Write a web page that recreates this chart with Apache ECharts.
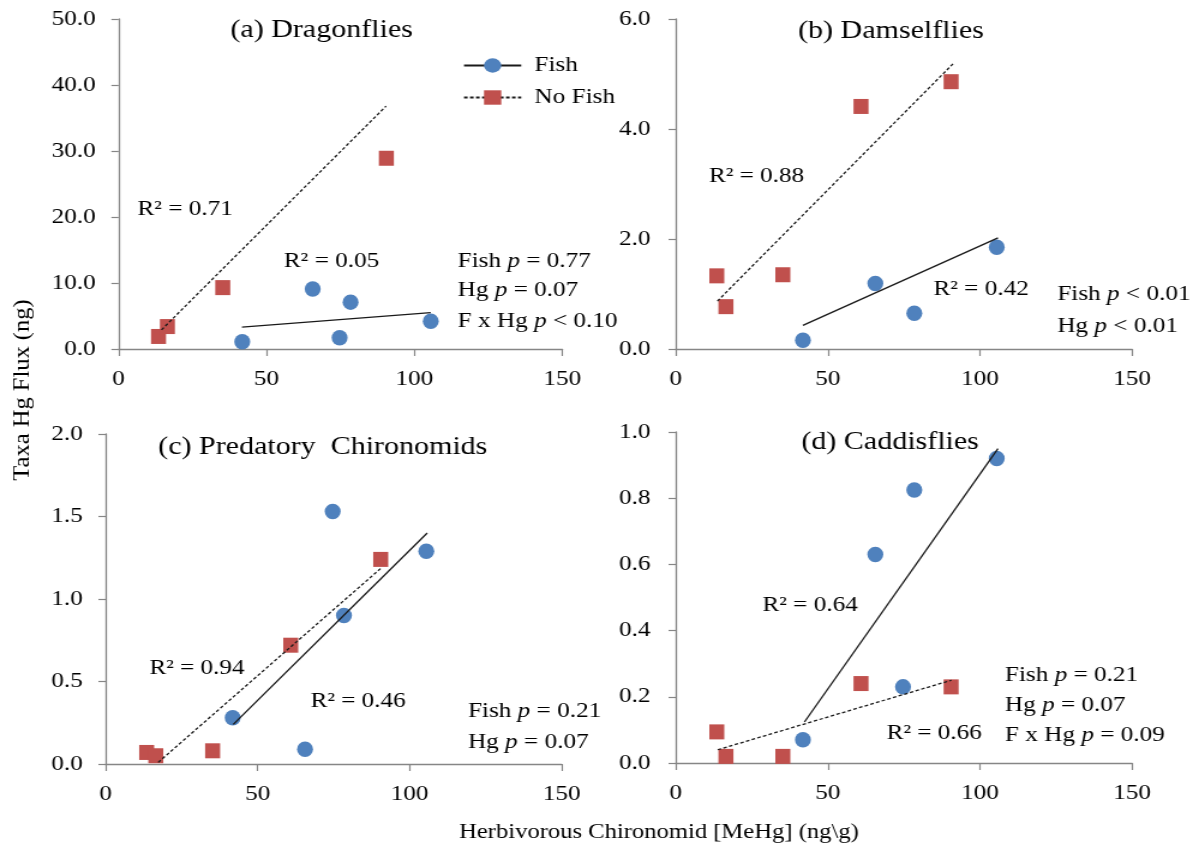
<!DOCTYPE html>
<html>
<head>
<meta charset="utf-8">
<script src="https://cdn.jsdelivr.net/npm/echarts@6/dist/echarts.min.js"></script>
<style>
  html, body { margin: 0; background: #fff; overflow: hidden; }
  /* the source figure is a bit wider than tall text would suggest: stretch horizontally */
  #chart { width: 999px; height: 849px; transform: scaleX(1.2002); transform-origin: 0 0; }
</style>
</head>
<body>
<div id="chart"></div>
<script>
// lake MeHg in herbivorous chironomids (x), same lakes in every panel
const fishX = [41.8, 65.6, 74.7, 78.4, 105.5];
const noFishX = [13.5, 16.5, 35.2, 60.9, 90.5];

// taxa Hg flux (ng); null = point not shown in that panel
const dragonFish = [1.1, 9.1, 1.7, 7.1, 4.2];
const dragonNoFish = [1.9, 3.4, 9.3, null, 28.9];
const damselFish = [0.16, 1.19, null, 0.65, 1.85];
const damselNoFish = [1.33, 0.77, 1.35, 4.41, 4.86];
const predFish = [0.28, 0.09, 1.53, 0.90, 1.29];
const predNoFish = [0.07, 0.05, 0.08, 0.72, 1.24];
const caddisFish = [0.07, 0.63, 0.23, 0.825, 0.92];
const caddisNoFish = [0.094, 0.02, 0.02, 0.24, 0.23];

// fitted trend line end points
const dragonFishFit = [[41.7, 3.3], [105.5, 5.5]];
const dragonNoFishFit = [[14.5, 2.9], [90.4, 36.8]];
const damselFishFit = [[41.8, 0.43], [105.9, 2.02]];
const damselNoFishFit = [[13.7, 0.87], [91.2, 5.19]];
const predFishFit = [[42.0, 0.24], [105.8, 1.40]];
const predNoFishFit = [[17.3, 0.01], [90.8, 1.19]];
const caddisFishFit = [[42.3, 0.124], [105.9, 0.95]];
const caddisNoFishFit = [[13.8, 0.04], [90.6, 0.25]];

const xTicks = [0, 50, 100, 150];

const FONT = "'Liberation Serif', 'Times New Roman', serif";
const BLUE = "#4f81bd";
const RED = "#c0504d";
const AXIS = "#868686";

// notes: [text, [x, y] in data units of that panel, fontSize]
const panels = [
  {
    grid: { left: 98.8, top: 19, width: 369.8, height: 330 },
    yMax: 50, yStep: 10, labelGap: 19,
    fish: dragonFish, noFish: dragonNoFish,
    fishFit: dragonFishFit, noFishFit: dragonNoFishFit,
    notes: [
      ["(a) Dragonflies", [37.8, 48.2], 25],
      ["R² = 0.71", [6.4, 21.1], 21],
      ["R² = 0.05", [55.9, 13.3], 21],
      ["Fish {i|p} = 0.77", [114.6, 13.3], 21],
      ["Hg {i|p} = 0.07", [114.6, 8.8], 21],
      ["F x Hg {i|p} < 0.10", [114.6, 4.2], 21],
    ],
  },
  {
    grid: { left: 563, top: 19, width: 380.3, height: 330 },
    yMax: 6, yStep: 2, labelGap: 21,
    fish: damselFish, noFish: damselNoFish,
    fishFit: damselFishFit, noFishFit: damselNoFishFit,
    notes: [
      ["(b) Damselflies", [40.2, 5.78], 25],
      ["R² = 0.88", [10.9, 3.14], 21],
      ["R² = 0.42", [84.7, 1.08], 21],
      ["Fish {i|p} < 0.01", [125.4, 0.99], 21],
      ["Hg {i|p} < 0.01", [125.4, 0.41], 21],
    ],
  },
  {
    grid: { left: 88, top: 434, width: 379.9, height: 330 },
    yMax: 2, yStep: 0.5, labelGap: 19,
    fish: predFish, noFish: predNoFish,
    fishFit: predFishFit, noFishFit: predNoFishFit,
    notes: [
      ["(c) Predatory  Chironomids", [17.3, 1.92], 25],
      ["R² = 0.94", [14.4, 0.58], 21],
      ["R² = 0.46", [67.4, 0.38], 21],
      ["Fish {i|p} = 0.21", [119.2, 0.317], 21],
      ["Hg {i|p} = 0.07", [119.2, 0.129], 21],
    ],
  },
  {
    grid: { left: 563, top: 432, width: 380.3, height: 331 },
    yMax: 1, yStep: 0.2, labelGap: 21,
    fish: caddisFish, noFish: caddisNoFish,
    fishFit: caddisFishFit, noFishFit: caddisNoFishFit,
    notes: [
      ["(d) Caddisflies", [41.3, 0.967], 25],
      ["R² = 0.64", [28.5, 0.477], 21],
      ["R² = 0.66", [69.3, 0.089], 21],
      ["Fish {i|p} = 0.21", [108.2, 0.265], 21],
      ["Hg {i|p} = 0.07", [108.2, 0.175], 21],
      ["F x Hg {i|p} = 0.09", [108.2, 0.084], 21],
    ],
  },
];

function pairs(xs, ys) {
  const out = [];
  xs.forEach((x, k) => { if (ys[k] != null) out.push([x, ys[k]]); });
  return out;
}

const axisCommon = {
  axisLine: { show: true, lineStyle: { color: AXIS, width: 1.3 } },
  axisTick: { show: true, inside: false, length: 7, lineStyle: { color: AXIS, width: 1.2 } },
  splitLine: { show: false },
};

const option = {
  animation: false,
  backgroundColor: "#fff",
  textStyle: { fontFamily: FONT },
  grid: panels.map((p) => ({ ...p.grid, containLabel: false })),
  xAxis: panels.map((p, i) => ({
    type: "value", gridIndex: i, min: xTicks[0], max: xTicks[xTicks.length - 1],
    interval: xTicks[1] - xTicks[0],
    ...axisCommon,
    axisLabel: { color: "#000", fontFamily: FONT, fontSize: 21, margin: 20 },
  })),
  yAxis: panels.map((p, i) => ({
    type: "value", gridIndex: i, min: 0, max: p.yMax, interval: p.yStep,
    ...axisCommon,
    axisTick: { ...axisCommon.axisTick, length: 6 },
    axisLabel: {
      color: "#000", fontFamily: FONT, fontSize: 21, margin: p.labelGap,
      formatter: (v) => v.toFixed(1),
    },
  })),
  legend: {
    orient: "vertical",
    left: 380.6, top: 50,
    itemWidth: 47.7, itemHeight: 18, itemGap: 11,
    data: ["Fish", "No Fish"],
    textStyle: { color: "#000", fontFamily: FONT, fontSize: 21, padding: [0, 0, 0, 6] },
    selectedMode: false,
  },
  series: [],
};

panels.forEach((p, i) => {
  option.series.push(
    {
      name: "Fish points", type: "scatter", xAxisIndex: i, yAxisIndex: i,
      symbol: "circle", symbolSize: [13.3, 15.5], silent: true, z: 2,
      itemStyle: { color: BLUE, opacity: 1 },
      data: pairs(fishX, p.fish),
    },
    {
      name: "No Fish points", type: "scatter", xAxisIndex: i, yAxisIndex: i,
      symbol: "rect", symbolSize: [12.5, 15], silent: true, z: 2,
      itemStyle: { color: RED, opacity: 1 },
      data: pairs(noFishX, p.noFish),
    },
    {
      name: "Fish", type: "line", xAxisIndex: i, yAxisIndex: i,
      symbol: "circle", showSymbol: false, silent: true, z: 3,
      itemStyle: { color: BLUE },
      lineStyle: { color: "#1a1a1a", width: 1.3, type: "solid" },
      data: p.fishFit,
    },
    {
      name: "No Fish", type: "line", xAxisIndex: i, yAxisIndex: i,
      symbol: "rect", showSymbol: false, silent: true, z: 3,
      itemStyle: { color: RED },
      lineStyle: { color: "#1a1a1a", width: 1.3, type: [3, 2] },
      data: p.noFishFit,
    }
  );
});

const chart = echarts.init(document.getElementById("chart"), null, { renderer: "canvas" });
chart.setOption(option);

// text annotations anchored to each panel's axes
const graphics = [];
panels.forEach((p, i) => {
  p.notes.forEach(([text, at, size]) => {
    const [px, py] = chart.convertToPixel({ gridIndex: i }, at);
    graphics.push({
      type: "text", x: px, y: py, silent: true,
      style: {
        text, fill: "#000", fontFamily: FONT, fontSize: size,
        align: "left", verticalAlign: "middle",
        rich: { i: { fontFamily: FONT, fontSize: size, fontStyle: "italic", fill: "#000" } },
      },
    });
  });
});
graphics.push(
  {
    // rotated axis title: long along the text, thinner across it
    type: "text", x: 18.5, y: 390, rotation: Math.PI / 2, scaleY: 0.78, silent: true,
    style: {
      text: "Taxa Hg Flux (ng)", fill: "#000", fontFamily: FONT, fontSize: 24.5,
      align: "center", verticalAlign: "middle",
    },
  },
  {
    type: "text", x: 549, y: 833, silent: true,
    style: {
      text: "Herbivorous Chironomid [MeHg] (ng\\g)", fill: "#000", fontFamily: FONT, fontSize: 20.5,
      align: "center", verticalAlign: "middle",
    },
  }
);
chart.setOption({ graphic: graphics });
</script>
</body>
</html>
